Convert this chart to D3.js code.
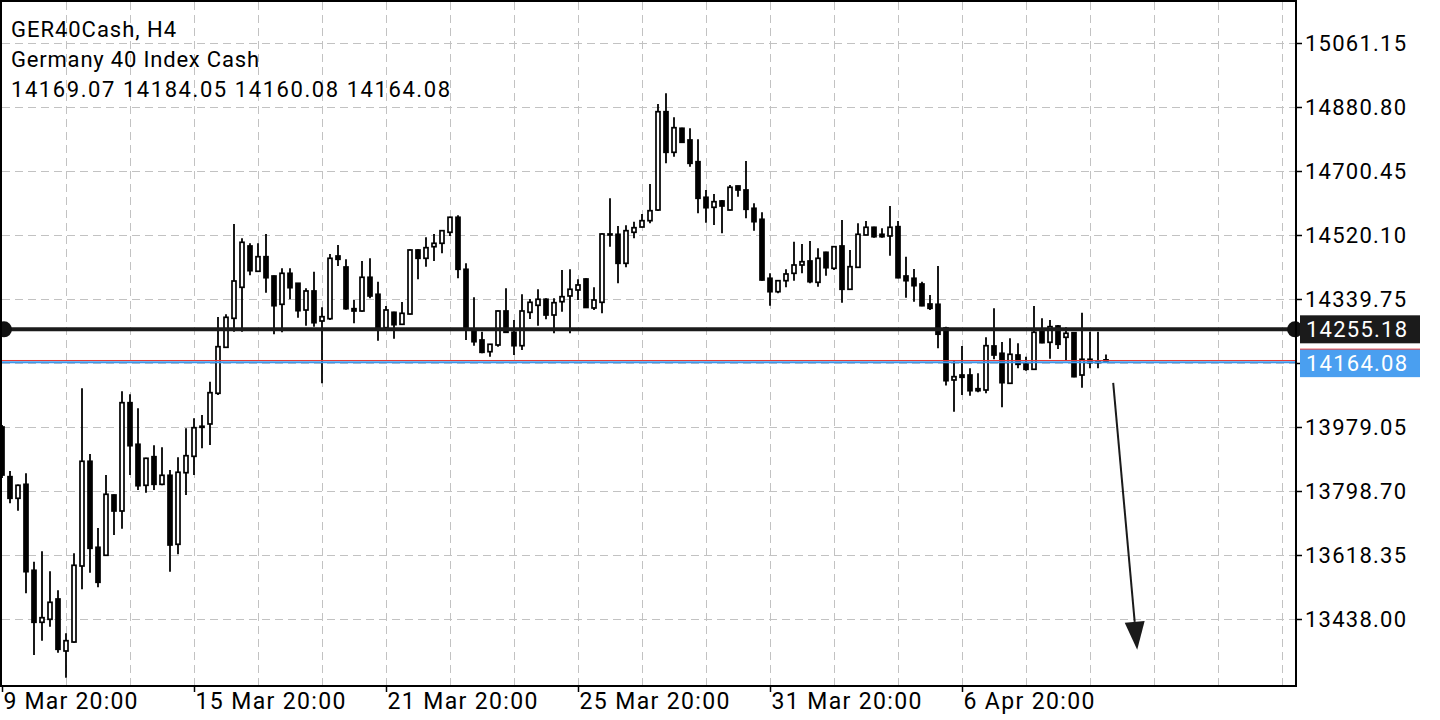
<!DOCTYPE html>
<html><head><meta charset="utf-8">
<script src="https://cdn.jsdelivr.net/npm/d3@7"></script>
<style>
body{margin:0;background:#fff;}
svg{display:block;}
text{font-family:Roboto,"Noto Sans",sans-serif;}
</style>
</head><body>
<svg id="chart" width="1440" height="720"></svg>
<script>
// ---- data (GER40Cash, H4) ----
const open=[13979.9,13839.9,13779.0,13818.4,13576.1,13429.6,13438.0,13495.2,13348.7,13374.0,
13588.2,13883.3,13640.9,13618.4,13788.3,13743.2,14048.4,13931.2,13815.6,13896.2,
13818.4,13843.8,13649.4,13851.1,13897.3,13982.0,13988.4,14074.9,14204.5,14286.2,
14373.6,14490.0,14418.7,14459.8,14405.4,14325.7,14413.0,14384.9,14309.6,14363.2,
14278.6,14285.1,14461.8,14430.8,14313.3,14306.8,14401.8,14353.9,14259.7,14303.1,
14269.3,14298.3,14478.7,14455.3,14488.0,14497.6,14528.6,14570.9,14424.3,14250.4,
14225.1,14192.1,14211.0,14306.8,14246.8,14209.0,14303.1,14322.9,14339.8,14295.5,
14333.0,14349.1,14366.0,14397.0,14315.3,14331.3,14523.8,14522.9,14441.2,14528.6,
14543.5,14561.3,14591.4,14868.4,14754.0,14821.7,14788.7,14727.5,14627.2,14599.0,
14616.8,14591.4,14659.1,14647.8,14596.2,14565.2,14399.0,14361.2,14392.2,14413.0,
14436.4,14447.7,14387.7,14472.2,14427.1,14490.0,14368.0,14429.9,14521.0,14542.7,
14522.9,14518.2,14544.4,14405.4,14399.0,14382.9,14326.5,14325.7,14258.9,14112.4,
14126.4,14126.4,14087.8,14084.2,14208.2,14187.6,14103.1,14182.8,14157.4,14142.5,
14248.5,14218.6,14264.5,14232.7,14245.7,14126.4,14170.7,14164.5,14169.07];
const high=[13985.5,13855.9,13818.0,13849.4,13600.3,13629.6,13573.3,13519.7,13398.6,13624.0,
14089.0,13903.8,13695.3,13844.6,13790.0,14080.5,14072.1,14032.6,13893.0,13928.3,
13922.7,13858.7,13894.5,13976.3,14004.4,14013.7,14107.6,14290.0,14297.5,14552.0,
14511.7,14497.6,14497.6,14523.8,14407.0,14427.1,14427.1,14386.0,14370.8,14417.6,
14317.2,14467.4,14492.8,14452.5,14337.8,14447.7,14455.3,14389.4,14320.9,14305.0,
14332.2,14480.7,14480.7,14514.5,14523.8,14535.0,14572.5,14576.5,14441.2,14345.4,
14248.5,14214.0,14308.0,14370.8,14281.4,14353.9,14340.6,14368.0,14342.6,14342.6,
14422.3,14424.3,14396.1,14399.0,14373.6,14526.0,14624.4,14546.3,14548.3,14558.5,
14580.1,14664.7,14890.1,14920.3,14852.6,14823.3,14821.7,14790.7,14647.8,14636.5,
14619.6,14661.9,14660.0,14729.5,14610.3,14584.9,14413.0,14393.0,14424.3,14502.1,
14495.6,14504.1,14483.5,14474.0,14489.0,14563.2,14478.7,14553.9,14560.4,14544.0,
14539.9,14602.7,14560.4,14459.8,14425.2,14389.4,14351.9,14433.6,14262.6,14168.7,
14208.2,14145.3,14131.2,14232.7,14314.4,14219.4,14229.9,14215.8,14178.0,14320.9,
14286.2,14281.4,14267.3,14260.9,14247.0,14302.0,14248.5,14248.5,14184.05];
const low=[13836.2,13764.9,13744.0,13511.3,13337.4,13377.7,13417.2,13343.9,13273.4,13372.0,
13522.6,13569.3,13528.2,13617.0,13675.6,13693.3,13844.6,13802.4,13794.8,13802.4,
13815.6,13572.2,13621.2,13788.3,13844.6,13919.9,13929.2,14070.1,14202.5,14248.5,
14248.5,14407.4,14417.0,14358.4,14241.1,14246.8,14339.8,14287.9,14265.4,14262.6,
14103.1,14281.4,14433.6,14310.0,14272.1,14305.0,14342.6,14223.1,14257.0,14228.7,
14268.0,14297.0,14396.1,14431.6,14447.7,14469.4,14518.2,14399.0,14225.1,14209.0,
14188.0,14178.0,14206.2,14245.5,14182.8,14196.9,14284.3,14265.4,14283.4,14244.0,
14304.8,14244.0,14337.8,14315.5,14309.6,14300.3,14488.0,14384.9,14429.9,14511.7,
14542.0,14553.9,14588.6,14723.0,14741.6,14781.0,14713.4,14582.1,14555.6,14549.1,
14525.8,14590.0,14628.9,14568.0,14533.1,14392.0,14321.7,14356.7,14373.6,14392.2,
14413.0,14384.9,14375.3,14406.3,14422.3,14330.2,14367.0,14429.0,14520.0,14513.4,
14513.4,14462.6,14399.0,14344.3,14333.0,14320.0,14309.6,14201.7,14096.9,14023.0,
14070.1,14068.1,14077.7,14074.9,14170.7,14035.4,14102.0,14145.3,14138.6,14141.0,
14215.8,14172.4,14199.7,14166.7,14120.0,14090.7,14145.3,14145.3,14160.08];
const close=[13844.6,13779.0,13815.6,13572.2,13429.6,13442.5,13485.9,13353.5,13377.7,13590.2,
13883.3,13638.1,13542.3,13790.3,13743.2,14048.4,13927.2,13814.5,13891.7,13818.4,
13843.8,13647.4,13852.3,13899.0,13977.9,13979.0,14076.6,14206.2,14289.0,14391.3,
14500.4,14420.4,14459.8,14400.6,14321.7,14413.0,14372.5,14307.7,14363.2,14273.8,
14290.7,14455.3,14452.5,14313.3,14306.8,14401.8,14349.1,14258.1,14309.6,14268.2,
14300.3,14478.7,14455.3,14485.2,14497.6,14533.1,14570.9,14424.3,14256.1,14220.3,
14190.4,14213.0,14306.8,14246.8,14209.0,14306.8,14331.3,14339.8,14295.5,14330.2,
14347.1,14368.0,14380.1,14316.7,14337.8,14523.8,14522.5,14441.2,14533.1,14541.5,
14561.3,14589.4,14868.4,14754.0,14823.3,14782.2,14723.0,14624.4,14597.9,14614.8,
14602.7,14655.4,14647.8,14593.4,14558.5,14394.2,14361.2,14392.2,14411.1,14436.4,
14445.7,14389.4,14455.3,14428.8,14488.0,14368.0,14431.6,14522.9,14542.7,14516.2,
14516.2,14542.7,14400.6,14392.2,14378.1,14321.7,14314.4,14241.4,14110.4,14121.7,
14120.0,14082.2,14082.2,14209.0,14182.8,14104.8,14184.8,14156.6,14142.5,14246.8,
14217.5,14262.6,14213.0,14244.0,14121.7,14170.7,14161.1,14163.0,14164.08];

const titleLines=["GER40Cash, H4","Germany 40 Index Cash","14169.07 14184.05 14160.08 14164.08"];
const xTickIdx=[0,24,48,72,96,120];
const xTickLabels=["9 Mar 20:00","15 Mar 20:00","21 Mar 20:00","25 Mar 20:00","31 Mar 20:00","6 Apr 20:00"];
const yTicks=[15061.15,14880.80,14700.45,14520.10,14339.75,14159.40,13979.05,13798.70,13618.35,13438.00];
const hiddenYTick=14159.40;
const levelPrice=14255.18;
const bidPrice=14164.08;
const askPrice=14167.3;
const arrowStart={i:138.9,p:14104};
const arrowEnd={i:141.9,p:13352};

// ---- layout ----
const L=2,R=1296,T=2,B=686;
const svg=d3.select("#chart");
const x=d3.scaleLinear().domain([0,160]).range([2,1282]);
const y=d3.scaleLinear().domain([13438,15061.15]).range([619.3,43.3]);

svg.append("defs").append("clipPath").attr("id","plot")
  .append("rect").attr("x",L).attr("y",T).attr("width",R-L).attr("height",B-T);

const grid=svg.append("g").attr("stroke","#c2c2c2").attr("stroke-width",1).attr("stroke-dasharray","8,5");
d3.range(8,161,8).forEach(i=>{
  grid.append("line").attr("x1",Math.round(x(i))+0.5).attr("x2",Math.round(x(i))+0.5).attr("y1",T).attr("y2",B);
});
yTicks.forEach(v=>{
  const yy=Math.round(y(v))+0.5;
  grid.append("line").attr("x1",L).attr("x2",R).attr("y1",yy).attr("y2",yy);
});

// title
const tg=svg.append("g").attr("fill","#000").attr("font-size",22);
const tLens=[165,248,439];
titleLines.forEach((t,k)=>{
  tg.append("text").attr("x",11).attr("y",37+k*30).attr("textLength",tLens[k]).attr("lengthAdjust","spacing").text(t);
});

// candles
const cg=svg.append("g").attr("clip-path","url(#plot)");
open.forEach((o,i)=>{
  const c=close[i], cx=x(i);
  cg.append("line").attr("x1",cx).attr("x2",cx).attr("y1",y(high[i])).attr("y2",y(low[i]))
    .attr("stroke","#000").attr("stroke-width",1.8);
  const top=Math.min(y(o),y(c)), h=Math.max(Math.abs(y(o)-y(c)),1);
  const bull=c>o;
  cg.append("rect").attr("x",cx-2).attr("y",top).attr("width",4).attr("height",h)
    .attr("fill",bull?"#fff":"#000").attr("stroke","#000").attr("stroke-width",1.7);
});

// ask / bid lines
svg.append("line").attr("x1",L).attr("x2",R).attr("y1",y(bidPrice)+0.5).attr("y2",y(bidPrice)+0.5)
  .attr("stroke","#3f97ea").attr("stroke-width",2);
svg.append("line").attr("x1",L).attr("x2",R).attr("y1",y(askPrice)).attr("y2",y(askPrice))
  .attr("stroke","#e53935").attr("stroke-width",1);

// horizontal level line
svg.append("line").attr("x1",L).attr("x2",R).attr("y1",y(levelPrice)).attr("y2",y(levelPrice))
  .attr("stroke","#1b1b1b").attr("stroke-width",4);
[L+2,R-1].forEach(cx=>svg.append("circle").attr("cx",cx).attr("cy",y(levelPrice)).attr("r",8).attr("fill","#111"));

// arrow
const ax1=x(arrowStart.i), ay1=y(arrowStart.p), ax2=x(arrowEnd.i), ay2=y(arrowEnd.p);
const dx=ax2-ax1, dy=ay2-ay1, len=Math.hypot(dx,dy), ux=dx/len, uy=dy/len;
const headL=28, headW=10;
const bx=ax2-ux*headL, by=ay2-uy*headL;
svg.append("line").attr("x1",ax1).attr("y1",ay1).attr("x2",bx).attr("y2",by)
  .attr("stroke","#1a1a1a").attr("stroke-width",2);
svg.append("path").attr("d",`M${ax2},${ay2}L${bx-uy*headW},${by+ux*headW}L${bx+uy*headW},${by-ux*headW}Z`)
  .attr("fill","#1a1a1a");

// frame
svg.append("rect").attr("x",1).attr("y",1).attr("width",R-1).attr("height",B-1)
  .attr("fill","none").attr("stroke","#000").attr("stroke-width",2);

// right axis
const ra=svg.append("g");
yTicks.forEach(v=>{
  const yy=Math.round(y(v))+0.5;
  ra.append("line").attr("x1",R).attr("x2",R+6).attr("y1",yy).attr("y2",yy).attr("stroke","#000").attr("stroke-width",1.5);
  if(v!==hiddenYTick){
    ra.append("text").attr("x",1305).attr("y",yy).attr("dy","0.36em").attr("font-size",22)
      .attr("textLength",101).attr("lengthAdjust","spacing").attr("fill","#000").text(v.toFixed(2));
  }
});
// price labels
function priceTag(p,fill,yy){
  ra.append("rect").attr("x",1300).attr("y",yy-14).attr("width",120).attr("height",28).attr("fill",fill);
  ra.append("text").attr("x",1306).attr("y",yy).attr("dy","0.36em").attr("font-size",22)
    .attr("textLength",101).attr("lengthAdjust","spacing").attr("fill","#fff").text(p.toFixed(2));
}
priceTag(levelPrice,"#1b1b1b",y(levelPrice));
priceTag(bidPrice,"#4a9ff0",y(bidPrice)+1.5);
ra.append("line").attr("x1",1300).attr("x2",1420).attr("y1",y(bidPrice)-12.5).attr("y2",y(bidPrice)-12.5)
  .attr("stroke","#e53935").attr("stroke-width",1);

// bottom axis
const ba=svg.append("g");
const labLens=[134,150,150,150,150,131];
xTickIdx.forEach((idx,k)=>{
  const xx=Math.round(x(idx))+0.5;
  ba.append("line").attr("x1",xx).attr("x2",xx).attr("y1",B).attr("y2",B+6).attr("stroke","#000").attr("stroke-width",1.5);
  ba.append("text").attr("x",xx+1).attr("y",709).attr("font-size",23)
    .attr("textLength",labLens[k]).attr("lengthAdjust","spacing").attr("fill","#000").text(xTickLabels[k]);
});
</script>
</body></html>
